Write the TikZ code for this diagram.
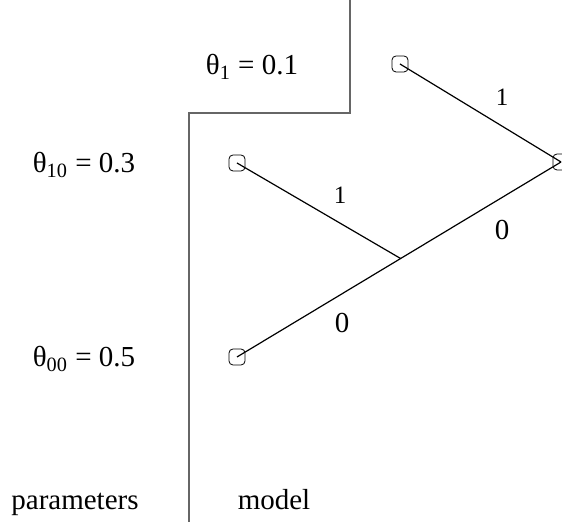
\documentclass[tikz,border=0pt]{standalone}
\usepackage{fontspec}
\setmainfont{Liberation Serif}
\usetikzlibrary{calc}

\begin{document}
\begin{tikzpicture}[x=0.5pt, y=-0.5pt,
        leaf/.style={draw, rounded corners=2pt, minimum size=8pt, inner sep=0pt},
        partline/.style={draw=black!60, line width=1pt},
        edge/.style={line width=0.6pt},
        txt/.style={anchor=base, font=\fontsize{14.5}{17}\selectfont},
        small/.style={anchor=center, font=\fontsize{12.5}{15}\selectfont}]
        % 描画範囲
        \useasboundingbox (0,0) rectangle (562,522);

        % パラメータとモデルの境界線
        \draw[partline] (350,0) -- (350,113) -- (189,113) -- (189,522);

        % パラメータ
        \node[txt] (t1) at (252,75) {θ\textsubscript{1} = 0.1};
        \node[txt] (t10) at (84,173) {θ\textsubscript{10} = 0.3};
        \node[txt] (t00) at (84,367) {θ\textsubscript{00} = 0.5};
        \node[txt] (par) at (75,510) {parameters};
        \node[txt] (mod) at (274,510) {model};

        % 木の節点
        \node[leaf] (a) at (400,64) {};
        \node[leaf] (b) at (237,163) {};
        \node[leaf] (c) at (237,357) {};
        \node[leaf] (d) at (561,162) {};
        \coordinate (j) at ($(c)!0.505!(d)$);

        % 枝
        \draw[edge] (a.center) -- (d.center);
        \draw[edge] (b.center) -- (j);
        \draw[edge] (c.center) -- (j) -- (d.center);

        % 枝のラベル
        \node[small] (l1) at (502,97) {1};
        \node[small] (l2) at (340,195) {1};
        \node[txt, anchor=center] (l3) at (502,230) {0};
        \node[txt, anchor=center] (l4) at (342,323) {0};
\end{tikzpicture}
\end{document}
